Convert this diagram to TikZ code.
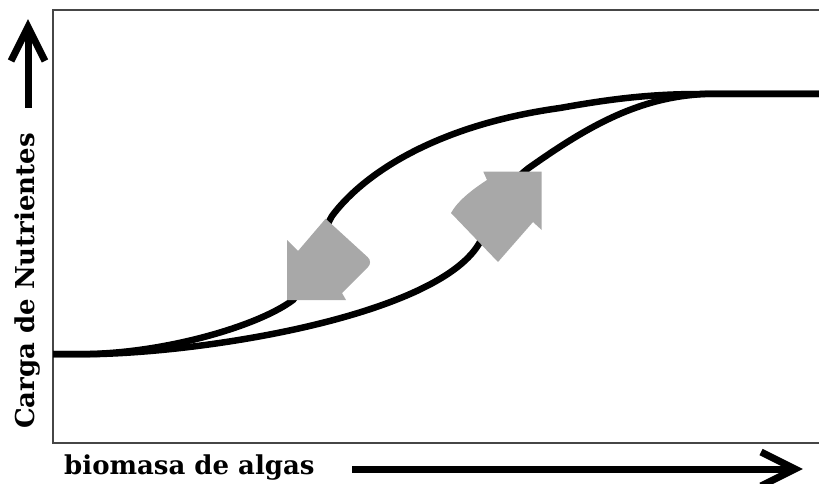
\documentclass[tikz,border=0pt]{standalone}
\usepackage{fontspec}
\newfontfamily\labfont{DejaVu Serif}
\definecolor{arrowgray}{RGB}{168,168,168}
\definecolor{framegray}{RGB}{70,70,70}
\tikzset{
  frameline/.style={draw=framegray, line width=1.8pt},
  curveline/.style={draw=black, line width=6.5pt, line cap=butt, line join=round},
  axisarrow/.style={draw=black, line width=7pt},
  chevron/.style={draw=black, line width=7pt, line join=miter, miter limit=10},
  blockarrow/.style={fill=arrowgray, draw=none},
  axislabel/.style={font=\labfont\bfseries\fontsize{26}{26}\selectfont, inner sep=0pt}
}
\begin{document}
\begin{tikzpicture}[x=1pt, y=-1pt]
\useasboundingbox (0,0) rectangle (819,484);
% frame
\draw[frameline] (819,10) -- (53,10) -- (53,443) -- (819,443);
% upper curve
\draw[curveline] (53,354) -- (90,354)
  .. controls (170,352) and (260,325) .. (293,300)
  .. controls (310,280) and (318,240) .. (332,216)
  .. controls (360,178) and (430,126) .. (560,108)
  .. controls (610,99) and (650,94) .. (700,94) -- (819,94);
% lower curve
\draw[curveline] (53,354) -- (100,354)
  .. controls (230,350) and (450,310) .. (482,238)
  .. controls (496,206) and (510,180) .. (533,165)
  .. controls (590,125) and (640,97) .. (705,94) -- (819,94);
% gray block arrows
\fill[blockarrow] (287,300) -- (287,240) -- (298,251) -- (325.6,218.7)
  [rounded corners=7pt] -- (373,262) [sharp corners] -- (342,293) -- (346,300) -- cycle;
\fill[blockarrow] (541.7,171.7) -- (483.3,171.7) -- (487,180)
  .. controls (470,191) and (457,202) .. (451,213) -- (498,262) -- (533,222) -- (541.7,230) -- cycle;
% axis arrows
\coordinate (ytail) at (28,108);
\coordinate (ytip) at (28,27);
\draw[axisarrow] (ytail) -- (ytip);
\draw[chevron] (11,61) -- (ytip) -- (45,61);
\coordinate (xtail) at (352,469);
\coordinate (xtip) at (795,469);
\draw[axisarrow] (xtail) -- (xtip);
\draw[chevron] (761,452) -- (xtip) -- (761,486);
% labels
\node[axislabel, anchor=base, rotate=90] (ylab) at (34,281) {Carga de Nutrientes};
\node[axislabel, anchor=base west] (xlab) at (64,474) {biomasa de algas};
\end{tikzpicture}
\end{document}
